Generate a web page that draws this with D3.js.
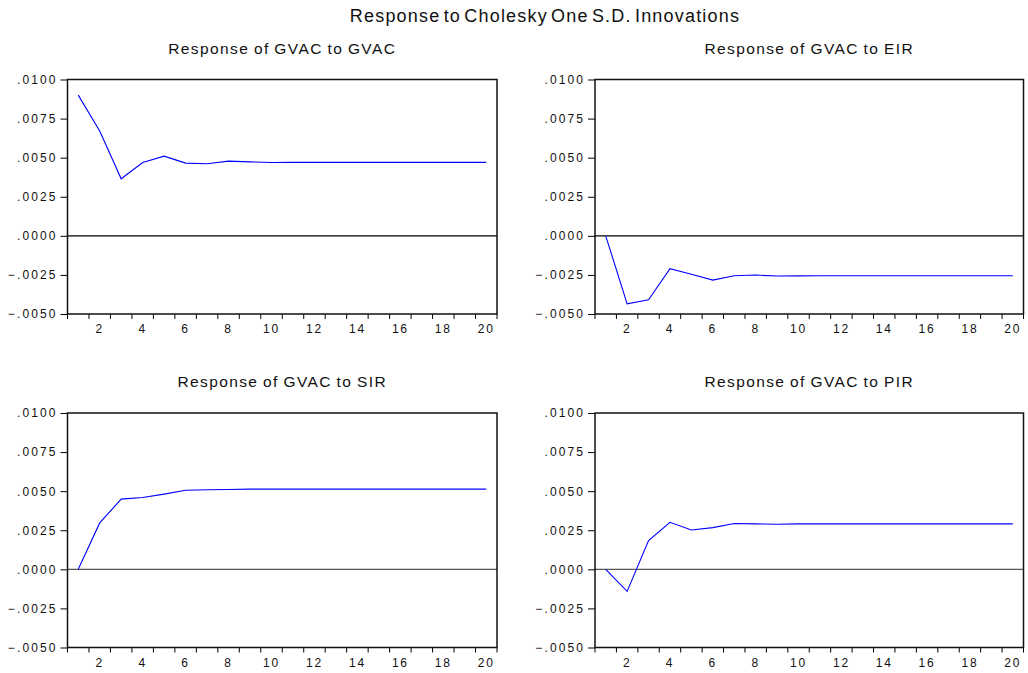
<!DOCTYPE html>
<html>
<head>
<meta charset="utf-8">
<title>Response to Cholesky One S.D. Innovations</title>
<script src="https://d3js.org/d3.v7.min.js"></script>
<style>
    body { margin: 0; background: #fff; font-family: "Liberation Sans", Arial, sans-serif; }
    .tick text { font-family: "Liberation Sans", Arial, sans-serif; }
</style>
</head>
<body>
<script>
// periods 1..20
var periods = d3.range(1, 21);
var yTicks = [-0.005, -0.0025, 0, 0.0025, 0.005, 0.0075, 0.01];
var xLabels = [2, 4, 6, 8, 10, 12, 14, 16, 18, 20];

// responses
var gvacToGvac = [0.0090, 0.0067, 0.00365, 0.00469, 0.0051, 0.00465, 0.00461, 0.00478, 0.00473, 0.00469,
                  0.0047, 0.0047, 0.0047, 0.0047, 0.0047, 0.0047, 0.0047, 0.0047, 0.0047, 0.0047];
var gvacToEir = [0, -0.00435, -0.00409, -0.0021, -0.00246, -0.00283, -0.00255, -0.00251, -0.00257, -0.00256,
                 -0.00255, -0.00255, -0.00255, -0.00255, -0.00255, -0.00255, -0.00255, -0.00255, -0.00255, -0.00255];
var gvacToSir = [0, 0.00297, 0.00449, 0.00459, 0.00481, 0.00506, 0.00509, 0.00511, 0.00513, 0.00513,
                 0.00513, 0.00513, 0.00513, 0.00513, 0.00513, 0.00513, 0.00513, 0.00513, 0.00513, 0.00513];
var gvacToPir = [0, -0.00141, 0.00184, 0.00301, 0.00252, 0.00267, 0.00293, 0.00291, 0.00288, 0.00291,
                 0.00291, 0.00291, 0.00291, 0.00291, 0.00291, 0.00291, 0.00291, 0.00291, 0.00291, 0.00291];

var titles = ["Response of GVAC to GVAC", "Response of GVAC to EIR", "Response of GVAC to SIR", "Response of GVAC to PIR"];
var series = [gvacToGvac, gvacToEir, gvacToSir, gvacToPir];

var width = 1028, height = 673;
var svg = d3.select("body").append("svg")
    .attr("width", width)
    .attr("height", height);

svg.append("text")
    .attr("x", 545).attr("y", 22)
    .attr("text-anchor", "middle")
    .attr("font-size", 18)
    .attr("letter-spacing", "1.2px")
    .attr("word-spacing", "-3px")
    .attr("fill", "#111")
    .text("Response to Cholesky One S.D. Innovations");

// panel frames
var lefts = [67.5, 595], tops = [79.5, 413];
var pw = [429.5, 428.5], ph = 234.5;

series.forEach(function(vals, i) {
    var col = i % 2, row = Math.floor(i / 2);
    var g = svg.append("g")
        .attr("transform", "translate(" + lefts[col] + "," + tops[row] + ")");
    var w = pw[col];

    var x = d3.scaleBand().domain(periods).range([0, w]);
    var y = d3.scaleLinear().domain([-0.005, 0.01]).range([ph, 0]);

    g.append("text")
        .attr("x", w / 2).attr("y", -26)
        .attr("text-anchor", "middle")
        .attr("font-size", 15.5)
        .attr("letter-spacing", "1.4px")
        .attr("word-spacing", "-1px")
        .attr("fill", "#111")
        .text(titles[i]);

    // y axis
    var yAxis = d3.axisLeft(y).tickValues(yTicks).tickSize(7).tickPadding(3)
        .tickFormat(function(d) {
            var s = d3.format(".4f")(d).replace("0.", ".");
            return s;
        });
    var ya = g.append("g").call(yAxis);
    ya.select(".domain").remove();
    ya.selectAll("text").attr("font-size", 12).attr("letter-spacing", "2.1px").attr("fill", "#111");

    // x ticks at band boundaries
    g.selectAll(".xt")
        .data(d3.range(0, 21))
        .enter().append("line")
        .attr("x1", function(d) { return d * x.step(); })
        .attr("x2", function(d) { return d * x.step(); })
        .attr("y1", ph).attr("y2", ph + 5)
        .attr("stroke", "#000");

    g.selectAll(".xl")
        .data(xLabels)
        .enter().append("text")
        .attr("x", function(d) { return x(d) + x.bandwidth() / 2; })
        .attr("y", ph + 19)
        .attr("text-anchor", "middle")
        .attr("font-size", 12)
        .attr("letter-spacing", "1.8px")
        .attr("fill", "#111")
        .text(function(d) { return d; });

    // zero line
    g.append("line")
        .attr("x1", 0).attr("x2", w)
        .attr("y1", y(0)).attr("y2", y(0))
        .attr("stroke", row === 0 ? "#000" : "#555")
        .attr("stroke-width", 1.2);

    var line = d3.line()
        .x(function(d, k) { return x(periods[k]) + x.bandwidth() / 2; })
        .y(function(d) { return y(d); });

    g.append("path")
        .datum(vals)
        .attr("fill", "none")
        .attr("stroke", "#0000ff")
        .attr("stroke-width", 1.1)
        .attr("d", line);

    g.append("rect")
        .attr("x", 0).attr("y", 0)
        .attr("width", w).attr("height", ph)
        .attr("fill", "none")
        .attr("stroke", "#111")
        .attr("stroke-width", 1.5);
});
</script>
</body>
</html>
